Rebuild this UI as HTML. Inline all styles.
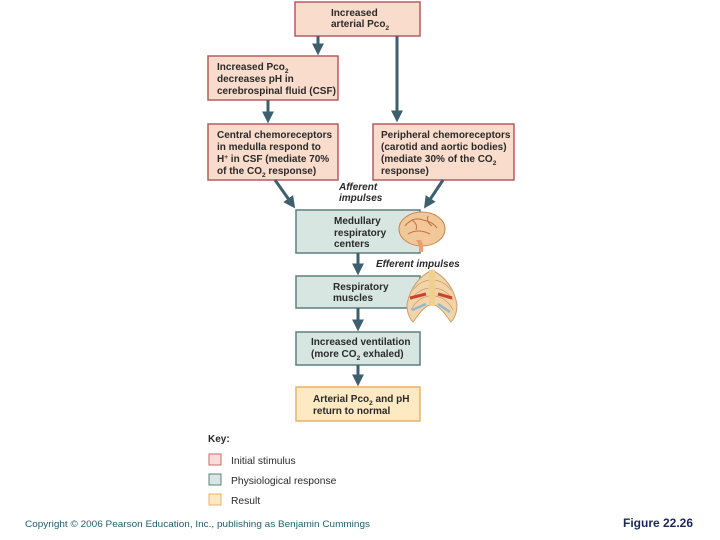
<!DOCTYPE html>
<html><head><meta charset="utf-8"><style>
html,body{margin:0;padding:0;background:#fff;}
svg{display:block;}
text{font-family:"Liberation Sans",Arial,sans-serif;font-weight:bold;font-size:10px;fill:#2a2a2a;}
.s{font-size:6.5px;}
.i{font-style:italic;}
</style></head><body>
<svg width="720" height="540" viewBox="0 0 720 540" xmlns="http://www.w3.org/2000/svg">
<defs>
<marker id="ah" markerWidth="4" markerHeight="4" refX="2.2" refY="2" orient="auto" markerUnits="strokeWidth">
<path d="M0,0 L4,2 L0,4 Z" fill="#3d5f6e"/></marker>
</defs>
<g fill="#f9dccb" stroke="#b85a62" stroke-width="1.5">
<rect x="295" y="2" width="125" height="34"/>
<rect x="208" y="56" width="130" height="44"/>
<rect x="208" y="124" width="130" height="56"/>
<rect x="373" y="124" width="141" height="56"/>
</g>
<g fill="#d7e6e1" stroke="#5e7f80" stroke-width="1.5">
<rect x="296" y="210" width="124" height="43"/>
<rect x="296" y="276" width="124" height="32"/>
<rect x="296" y="332" width="124" height="33"/>
</g>
<rect x="296" y="387" width="124" height="34" fill="#fde9c2" stroke="#e8b266" stroke-width="1.5"/>
<g stroke="#3d5f6e" stroke-width="3" fill="none" marker-end="url(#ah)">
<line x1="318" y1="36" x2="318" y2="50"/>
<line x1="397" y1="36" x2="397" y2="117"/>
<line x1="268" y1="100" x2="268" y2="118"/>
<line x1="275" y1="180" x2="292" y2="204"/>
<line x1="443" y1="180" x2="427" y2="204"/>
<line x1="358" y1="253" x2="358" y2="270"/>
<line x1="358" y1="308" x2="358" y2="326"/>
<line x1="358" y1="365" x2="358" y2="381"/>
</g>
<text x="331" y="16">Increased</text>
<text x="331" y="27">arterial Pco<tspan class="s" dy="3">2</tspan></text>
<text x="217" y="70">Increased Pco<tspan class="s" dy="3">2</tspan></text>
<text x="217" y="82">decreases pH in</text>
<text x="217" y="94">cerebrospinal fluid (CSF)</text>
<text x="217" y="138">Central chemoreceptors</text>
<text x="217" y="150">in medulla respond to</text>
<text x="217" y="162">H<tspan class="s" dy="-3">+</tspan><tspan dy="3"> in CSF (mediate 70%</tspan></text>
<text x="217" y="174">of the CO<tspan class="s" dy="3">2</tspan><tspan dy="-3"> response)</tspan></text>
<text x="381" y="138">Peripheral chemoreceptors</text>
<text x="381" y="150">(carotid and aortic bodies)</text>
<text x="381" y="162">(mediate 30% of the CO<tspan class="s" dy="3">2</tspan></text>
<text x="381" y="174">response)</text>
<text x="339" y="190" class="i">Afferent</text>
<text x="339" y="201" class="i">impulses</text>
<text x="334" y="224">Medullary</text>
<text x="334" y="236">respiratory</text>
<text x="334" y="247">centers</text>
<text x="376" y="267" class="i">Efferent impulses</text>
<text x="333" y="290">Respiratory</text>
<text x="333" y="301">muscles</text>
<text x="311" y="345">Increased ventilation</text>
<text x="311" y="357">(more CO<tspan class="s" dy="3">2</tspan><tspan dy="-3"> exhaled)</tspan></text>
<text x="313" y="402">Arterial Pco<tspan class="s" dy="3">2</tspan><tspan dy="-3"> and pH</tspan></text>
<text x="313" y="414">return to normal</text>
<!-- brain -->
<ellipse cx="422" cy="229" rx="23" ry="17" fill="#f2c79a" stroke="#c98850" stroke-width="1"/>
<path d="M405,226 q8,-10 18,-6 q10,2 14,8 M408,234 q10,-6 22,0 M412,220 q6,4 4,10 M428,216 q-2,6 4,10" stroke="#c07040" stroke-width="1" fill="none"/>
<path d="M416,240 q4,6 3,12 l4,0 q1,-7 -2,-12z" fill="#e8a070"/>
<!-- ribcage -->
<path d="M432,270 q-20,10 -25,34 q0,12 6,18 l6,-8 q6,-8 13,-10 q7,2 13,10 l6,8 q6,-6 6,-18 q-5,-24 -25,-34z" fill="#f3d4a8" stroke="#c9a070" stroke-width="1"/>
<g stroke="#c9a070" stroke-width="0.8" fill="none">
<path d="M429,280 q-10,2 -16,10 M429,288 q-12,2 -18,12 M429,296 q-12,2 -18,14 M435,280 q10,2 16,10 M435,288 q12,2 18,12 M435,296 q12,2 18,14"/>
</g>
<rect x="429" y="270" width="6" height="36" fill="#f0d090"/>
<path d="M410,298 l16,-4 M438,294 l14,4" stroke="#d04030" stroke-width="3"/>
<path d="M412,310 l14,-6 M438,304 l12,8" stroke="#8fb8d8" stroke-width="2.5"/>
<!-- key -->
<text x="208" y="442" style="font-size:10px;font-weight:900">Key:</text>
<rect x="209" y="454" width="12" height="11" fill="#fbdcd8" stroke="#c86a6a"/>
<text x="231" y="464" style="font-weight:normal;font-size:10.3px">Initial stimulus</text>
<rect x="209" y="474" width="12" height="11" fill="#d7e6e1" stroke="#5e7f80"/>
<text x="231" y="484" style="font-weight:normal;font-size:10.3px">Physiological response</text>
<rect x="209" y="494" width="12" height="11" fill="#fde9c2" stroke="#e8b266"/>
<text x="231" y="504" style="font-weight:normal;font-size:10.3px">Result</text>
<text x="25" y="527" textLength="345" lengthAdjust="spacingAndGlyphs" style="font-weight:normal;font-size:9.5px;fill:#1f5e6e">Copyright © 2006 Pearson Education, Inc., publishing as Benjamin Cummings</text>
<text x="623" y="527" textLength="70" lengthAdjust="spacingAndGlyphs" style="font-size:12px;fill:#1a2a55">Figure 22.26</text>
</svg>
</body></html>
